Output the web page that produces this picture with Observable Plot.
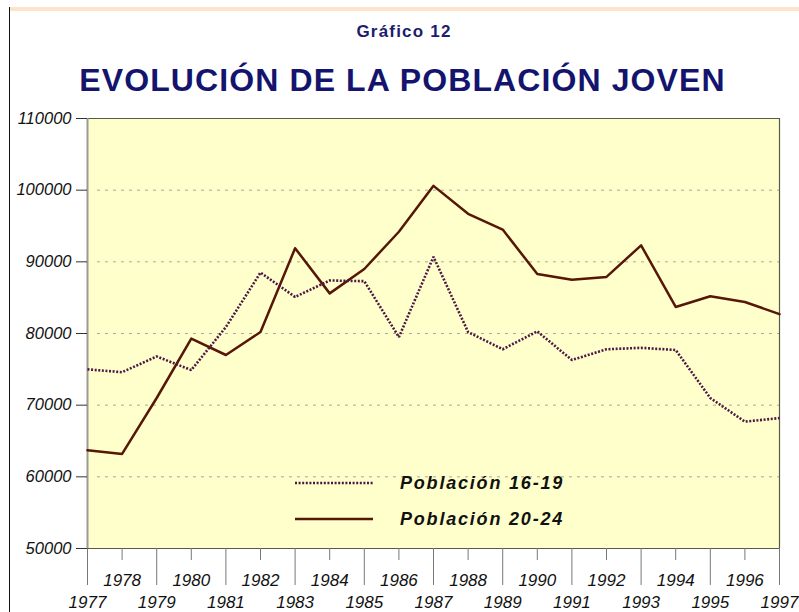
<!DOCTYPE html>
<html>
<head>
<meta charset="utf-8">
<script src="https://cdn.jsdelivr.net/npm/d3@7"></script>
<script src="https://cdn.jsdelivr.net/npm/@observablehq/plot@0.6"></script>
<style>
  html, body { margin: 0; padding: 0; background: #fff; }
  #wrap { position: relative; width: 799px; height: 612px; overflow: hidden; font-family: "Liberation Sans", Arial, sans-serif; }
  #head { position: relative; height: 100px; }
  #sup { position: absolute; left: 0; width: 808px; top: 22px; text-align: center; font-size: 17px; font-weight: bold; letter-spacing: 1.2px; color: #1c1c70; }
  #title { position: absolute; left: 0; width: 805px; top: 62px; text-align: center; font-size: 32px; font-weight: bold; letter-spacing: 1.1px; color: #14146e; }
  #topline { position: absolute; left: 9px; top: 7px; width: 790px; height: 4px; background: #fde3c8; }
  #leftline { position: absolute; left: 9px; top: 7px; width: 1px; height: 605px; background: #111; }
  #legend { position: absolute; left: 0; top: 0; pointer-events: none; }
  #chart svg text { font-style: italic; }
</style>
</head>
<body>
<div id="wrap">
  <div id="topline"></div>
  <div id="leftline"></div>
  <div id="head">
    <div id="sup">Gráfico 12</div>
    <div id="title">EVOLUCIÓN DE LA POBLACIÓN JOVEN</div>
  </div>
  <div id="chart"></div>
  <svg id="legend" width="799" height="612"></svg>
</div>
<script>
const years = [1977,1978,1979,1980,1981,1982,1983,1984,1985,1986,1987,1988,1989,1990,1991,1992,1993,1994,1995,1996,1997];
const pop1619 = [75000,74600,76800,74900,80900,88500,85100,87400,87300,79500,90700,80200,77800,80300,76300,77800,78000,77700,71000,67700,68200];
const pop2024 = [63700,63200,71000,79300,77000,80200,91900,85600,89000,94200,100600,96700,94500,88300,87500,87900,92300,83700,85200,84400,82700];
const seriesNames = ["Población 16-19", "Población 20-24"];
const yTicks = [50000,60000,70000,80000,90000,100000,110000];
const gridTicks = [60000,70000,80000,90000,100000];
const evenYears = years.filter(y => y % 2 === 0);
const oddYears = years.filter(y => y % 2 === 1);

const d1619 = years.map((y, i) => ({year: y, value: pop1619[i]}));
const d2024 = years.map((y, i) => ({year: y, value: pop2024[i]}));

const c1619 = "#4e1846";
const c2024 = "#561608";

const chart = Plot.plot({
  width: 799,
  height: 512,
  marginLeft: 87,
  marginRight: 20,
  marginTop: 18,
  marginBottom: 64,
  style: { fontFamily: "'Liberation Sans', Arial, sans-serif", fontStyle: "italic", background: "transparent" },
  x: { domain: [1977, 1997], axis: null },
  y: { domain: [50000, 110000], axis: null },
  marks: [
    Plot.frame({ fill: "#ffffcc", stroke: null }),
    Plot.gridY(gridTicks, { stroke: "#a8a898", strokeOpacity: 1, strokeDasharray: "3,5", insetLeft: 10 }),
    Plot.ruleY([110000, 50000], { stroke: "#5a5a48", strokeWidth: 1.2 }),
    Plot.ruleX([1997], { stroke: "#5a5a48", strokeWidth: 1.2 }),
    Plot.ruleX([1977], { stroke: "#9a9a9a", strokeWidth: 2 }),
    Plot.axisY(yTicks, { tickSize: 11, tickPadding: 5, fontSize: 16.5, fontStyle: "italic", tickFormat: d => String(d), stroke: "#333", color: "#111", label: null }),
    Plot.axisX(oddYears, { tickSize: 37, tickPadding: 10, fontSize: 17, fontStyle: "italic", tickFormat: d => String(d), stroke: "#777", color: "#111", label: null }),
    Plot.axisX(evenYears, { tickSize: 12, tickPadding: 13, fontSize: 17, fontStyle: "italic", tickFormat: d => String(d), stroke: "#777", color: "#111", label: null }),
    Plot.line(d2024, { x: "year", y: "value", stroke: c2024, strokeWidth: 2.5 }),
    Plot.line(d1619, { x: "year", y: "value", stroke: c1619, strokeWidth: 2.6, strokeDasharray: "2,1.6", strokeLinecap: "butt", strokeLinejoin: "miter" })
  ]
});
document.getElementById("chart").appendChild(chart);

// legend overlay
const lg = d3.select("#legend");
const items = [
  { name: seriesNames[0], color: c1619, dash: "2,1.6", y: 483 },
  { name: seriesNames[1], color: c2024, dash: null, y: 519 }
];
items.forEach(it => {
  lg.append("line").attr("x1", 295).attr("x2", 373).attr("y1", it.y).attr("y2", it.y)
    .attr("stroke", it.color).attr("stroke-width", 2.5).attr("stroke-dasharray", it.dash);
  lg.append("text").attr("x", 400).attr("y", it.y).attr("dy", "0.36em")
    .attr("font-family", "'Liberation Sans', Arial, sans-serif").attr("font-size", 18)
    .attr("font-weight", "bold").attr("font-style", "italic").attr("letter-spacing", 1.8)
    .attr("fill", "#111").text(it.name);
});
</script>
</body>
</html>
